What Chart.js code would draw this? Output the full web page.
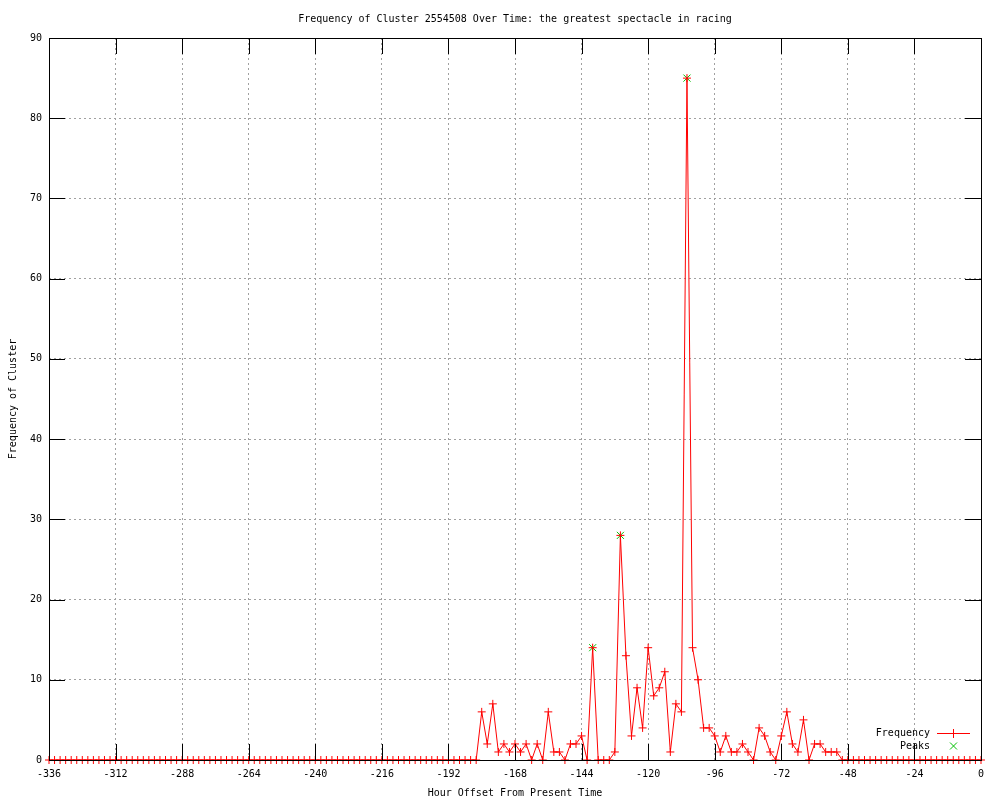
<!DOCTYPE html>
<html>
<head>
<meta charset="utf-8">
<title>Frequency of Cluster 2554508</title>
<script src="https://cdn.jsdelivr.net/npm/chart.js@4/dist/chart.umd.min.js"></script>
<style>
  body { margin: 0; background: #fff; }
  canvas { display: block; }
</style>
</head>
<body>
<canvas id="myChart" width="1000" height="800"></canvas>
<script>
// hour offsets, one point every 2 hours
var hours = [
  -336, -334, -332, -330, -328, -326, -324, -322, -320, -318, -316, -314, -312, -310, -308, -306,
  -304, -302, -300, -298, -296, -294, -292, -290, -288, -286, -284, -282, -280, -278, -276, -274,
  -272, -270, -268, -266, -264, -262, -260, -258, -256, -254, -252, -250, -248, -246, -244, -242,
  -240, -238, -236, -234, -232, -230, -228, -226, -224, -222, -220, -218, -216, -214, -212, -210,
  -208, -206, -204, -202, -200, -198, -196, -194, -192, -190, -188, -186, -184, -182, -180, -178,
  -176, -174, -172, -170, -168, -166, -164, -162, -160, -158, -156, -154, -152, -150, -148, -146,
  -144, -142, -140, -138, -136, -134, -132, -130, -128, -126, -124, -122, -120, -118, -116, -114,
  -112, -110, -108, -106, -104, -102, -100, -98, -96, -94, -92, -90, -88, -86, -84, -82,
  -80, -78, -76, -74, -72, -70, -68, -66, -64, -62, -60, -58, -56, -54, -52, -50,
  -48, -46, -44, -42, -40, -38, -36, -34, -32, -30, -28, -26, -24, -22, -20, -18,
  -16, -14, -12, -10, -8, -6, -4, -2, 0
];
var frequency = [
  0, 0, 0, 0, 0, 0, 0, 0, 0, 0, 0, 0, 0, 0, 0, 0,
  0, 0, 0, 0, 0, 0, 0, 0, 0, 0, 0, 0, 0, 0, 0, 0,
  0, 0, 0, 0, 0, 0, 0, 0, 0, 0, 0, 0, 0, 0, 0, 0,
  0, 0, 0, 0, 0, 0, 0, 0, 0, 0, 0, 0, 0, 0, 0, 0,
  0, 0, 0, 0, 0, 0, 0, 0, 0, 0, 0, 0, 0, 0, 6, 2,
  7, 1, 2, 1, 2, 1, 2, 0, 2, 0, 6, 1, 1, 0, 2, 2,
  3, 0, 14, 0, 0, 0, 1, 28, 13, 3, 9, 4, 14, 8, 9, 11,
  1, 7, 6, 85, 14, 10, 4, 4, 3, 1, 3, 1, 1, 2, 1, 0,
  4, 3, 1, 0, 3, 6, 2, 1, 5, 0, 2, 2, 1, 1, 1, 0,
  0, 0, 0, 0, 0, 0, 0, 0, 0, 0, 0, 0, 0, 0, 0, 0,
  0, 0, 0, 0, 0, 0, 0, 0, 0
];
var peakHours = [-140, -130, -106];
var peakValues = [14, 28, 85];
var xTickValues = [-336, -312, -288, -264, -240, -216, -192, -168, -144, -120, -96, -72, -48, -24, 0];
var yTickValues = [0, 10, 20, 30, 40, 50, 60, 70, 80, 90];

var freqPoints = [];
for (var i = 0; i < hours.length; i++) {
  freqPoints.push({ x: hours[i], y: frequency[i] });
}
var peakPoints = [];
for (var j = 0; j < peakHours.length; j++) {
  peakPoints.push({ x: peakHours[j], y: peakValues[j] });
}

Chart.defaults.font.family = "'DejaVu Sans Mono', 'Liberation Mono', monospace";
Chart.defaults.font.size = 10;
Chart.defaults.color = "#000";

// gnuplot style frame, inner tick marks and legend
const framePlugin = {
  id: "frame",
  afterDatasetsDraw(chart) {
    const ctx = chart.ctx;
    const a = chart.chartArea;
    const x = chart.scales.x;
    const y = chart.scales.y;
    ctx.save();
    ctx.setLineDash([]);
    ctx.strokeStyle = "#000";
    ctx.lineWidth = 1;
    ctx.beginPath();
    xTickValues.forEach(v => {
      const px = Math.round(x.getPixelForValue(v)) + 0.5;
      ctx.moveTo(px, a.bottom);
      ctx.lineTo(px, a.bottom - 16);
      ctx.moveTo(px, a.top);
      ctx.lineTo(px, a.top + 16);
    });
    yTickValues.forEach(v => {
      const py = Math.round(y.getPixelForValue(v)) + 0.5;
      ctx.moveTo(a.left, py);
      ctx.lineTo(a.left + 16, py);
      ctx.moveTo(a.right, py);
      ctx.lineTo(a.right - 16, py);
    });
    ctx.stroke();
    ctx.strokeRect(Math.round(a.left) + 0.5, Math.round(a.top) + 0.5,
      Math.round(a.right - a.left), Math.round(a.bottom - a.top));
    ctx.restore();

    // legend, bottom right inside the plot
    ctx.save();
    ctx.font = "10px 'DejaVu Sans Mono', monospace";
    ctx.fillStyle = "#000";
    ctx.textAlign = "right";
    ctx.textBaseline = "middle";
    ctx.fillText("Frequency", 930, 733);
    ctx.fillText("Peaks", 930, 746);
    ctx.fillStyle = "#ff0000";
    ctx.fillRect(937, 733, 33, 1);
    ctx.fillRect(953, 729, 1, 9);
    ctx.setLineDash([]);
    ctx.lineWidth = 1;
    ctx.strokeStyle = "#00c000";
    ctx.beginPath();
    ctx.moveTo(950, 742.5);
    ctx.lineTo(957, 749.5);
    ctx.moveTo(957, 742.5);
    ctx.lineTo(950, 749.5);
    ctx.stroke();
    ctx.restore();
  }
};

new Chart("myChart", {
  type: "line",
  data: {
    datasets: [{
      label: "Frequency",
      data: freqPoints,
      borderColor: "#ff0000",
      backgroundColor: "#ff0000",
      borderWidth: 1,
      pointStyle: "cross",
      pointRadius: 4,
      pointBorderWidth: 1,
      tension: 0,
      clip: false
    }, {
      label: "Peaks",
      data: peakPoints,
      showLine: false,
      borderColor: "#00c000",
      backgroundColor: "#00c000",
      pointStyle: "crossRot",
      pointRadius: 5,
      pointBorderWidth: 1,
      clip: false
    }]
  },
  options: {
    responsive: false,
    animation: false,
    devicePixelRatio: 1,
    layout: {
      padding: { left: 0, right: 19, top: 0, bottom: 0 }
    },
    plugins: {
      legend: { display: false },
      tooltip: { enabled: false },
      title: {
        display: true,
        fullSize: false,
        text: "Frequency of Cluster 2554508 Over Time: the greatest spectacle in racing",
        font: { size: 10, weight: "normal" },
        color: "#000",
        padding: { top: 13, bottom: 13 }
      }
    },
    scales: {
      x: {
        type: "linear",
        min: -336,
        max: 0,
        afterBuildTicks: scale => {
          scale.ticks = xTickValues.map(v => ({ value: v }));
        },
        afterFit: scale => { scale.height = 40; },
        ticks: { padding: 8, maxRotation: 0, autoSkip: false },
        grid: { color: "#a0a0a0", drawTicks: false },
        border: { display: false, dash: [2, 3] },
        title: {
          display: true,
          text: "Hour Offset From Present Time",
          padding: { top: 0, bottom: 1 }
        }
      },
      y: {
        type: "linear",
        min: 0,
        max: 90,
        afterBuildTicks: scale => {
          scale.ticks = yTickValues.map(v => ({ value: v }));
        },
        afterFit: scale => { scale.width = 49; },
        ticks: { padding: 7 },
        grid: { color: "#a0a0a0", drawTicks: false },
        border: { display: false, dash: [2, 3] },
        title: {
          display: true,
          text: "Frequency of Cluster",
          padding: { top: 7, bottom: 0 }
        }
      }
    }
  },
  plugins: [framePlugin]
});
</script>
</body>
</html>
